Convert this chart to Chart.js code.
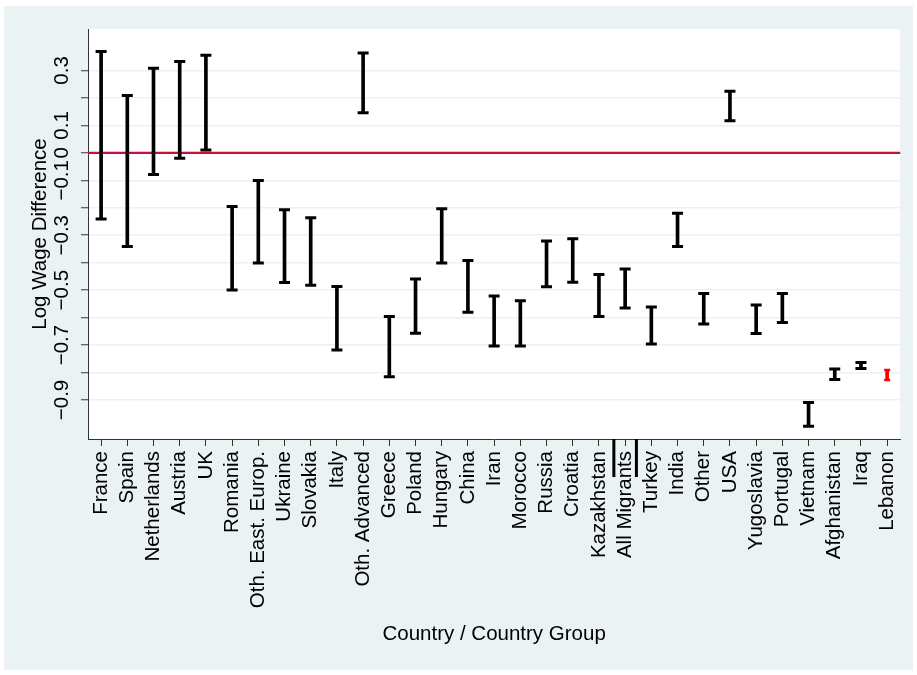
<!DOCTYPE html>
<html>
<head>
<meta charset="utf-8">
<script src="https://cdn.jsdelivr.net/npm/chart.js@4.4.1/dist/chart.umd.min.js"></script>
<style>
  html, body { margin: 0; padding: 0; background: #ffffff; }
  canvas { display: block; }
</style>
</head>
<body>
<canvas id="chart" width="917" height="675"></canvas>
<script>
// Country groups along the x axis
const countries = [
  'France', 'Spain', 'Netherlands', 'Austria', 'UK', 'Romania', 'Oth. East. Europ.',
  'Ukraine', 'Slovakia', 'Italy', 'Oth. Advanced', 'Greece', 'Poland', 'Hungary',
  'China', 'Iran', 'Morocco', 'Russia', 'Croatia', 'Kazakhstan', 'All Migrants',
  'Turkey', 'India', 'Other', 'USA', 'Yugoslavia', 'Portugal', 'Vietnam',
  'Afghanistan', 'Iraq', 'Lebanon'
];

// Confidence interval bounds of the log wage difference
const ciUpper = [
  0.369, 0.209, 0.308, 0.333, 0.355, -0.195, -0.101,
  -0.207, -0.236, -0.487, 0.364, -0.596, -0.459, -0.204,
  -0.392, -0.521, -0.539, -0.321, -0.313, -0.443, -0.423,
  -0.561, -0.220, -0.512, 0.224, -0.554, -0.512, -0.909,
  -0.787, -0.763, -0.791
];
const ciLower = [
  -0.241, -0.341, -0.079, -0.020, 0.010, -0.499, -0.401,
  -0.472, -0.482, -0.718, 0.146, -0.815, -0.657, -0.401,
  -0.580, -0.703, -0.703, -0.488, -0.471, -0.596, -0.565,
  -0.696, -0.341, -0.623, 0.117, -0.658, -0.618, -0.996,
  -0.825, -0.785, -0.827
];

// Groups drawn in red, and the group bracketed on the axis
const redGroups = ['Lebanon'];
const bracketGroup = 'All Migrants';

// Y axis ticks and their labels
const yTickValues = [-0.9, -0.8, -0.7, -0.6, -0.5, -0.4, -0.3, -0.2, -0.1, 0, 0.1, 0.2, 0.3];
const yTickLabels = ['\u22120.9', '', '\u22120.7', '', '\u22120.5', '', '\u22120.3', '', '\u22120.1', '0', '0.1', '', '0.3'];
const yRange = [-1.042, 0.451];
const referenceValue = 0;

const xTitle = 'Country / Country Group';
const yTitle = 'Log Wage Difference';

const FONT = '"Liberation Sans", Arial, Helvetica, sans-serif';
const PANEL = '#eaf2f3';

const panelBackground = {
  id: 'panelBackground',
  beforeDraw(chart) {
    const { ctx, chartArea: a } = chart;
    ctx.save();
    ctx.fillStyle = PANEL;
    ctx.fillRect(4, 6, 909, 664);
    ctx.fillStyle = '#ffffff';
    ctx.fillRect(a.left, a.top, a.right - a.left, a.bottom - a.top);
    ctx.restore();
  }
};

const referenceLine = {
  id: 'referenceLine',
  beforeDatasetsDraw(chart) {
    const { ctx, chartArea: a, scales: { y } } = chart;
    const py = y.getPixelForValue(referenceValue);
    ctx.save();
    ctx.strokeStyle = '#c8103c';
    ctx.lineWidth = 2.2;
    ctx.beginPath();
    ctx.moveTo(a.left, py);
    ctx.lineTo(a.right, py);
    ctx.stroke();
    ctx.restore();
  }
};

const errorCaps = {
  id: 'errorCaps',
  afterDatasetsDraw(chart) {
    const ctx = chart.ctx;
    const meta = chart.getDatasetMeta(0);
    meta.data.forEach((bar, i) => {
      const red = redGroups.includes(countries[i]);
      const half = red ? 3 : 5.5;
      ctx.save();
      ctx.strokeStyle = red ? '#ff0000' : '#000000';
      ctx.lineWidth = red ? 2.5 : 3;
      ctx.beginPath();
      [bar.y, bar.base].forEach(py => {
        ctx.moveTo(bar.x - half, py);
        ctx.lineTo(bar.x + half, py);
      });
      ctx.stroke();
      ctx.restore();
    });
  }
};

const groupBrackets = {
  id: 'groupBrackets',
  afterDraw(chart) {
    const ctx = chart.ctx;
    const x = chart.scales.x;
    const i = countries.indexOf(bracketGroup);
    if (i < 0) return;
    const step = x.getPixelForValue(1) - x.getPixelForValue(0);
    const c = x.getPixelForValue(i);
    const top = chart.chartArea.bottom;
    ctx.save();
    ctx.strokeStyle = '#000000';
    ctx.lineWidth = 3;
    ctx.beginPath();
    [-0.43, 0.43].forEach(f => {
      ctx.moveTo(c + f * step, top);
      ctx.lineTo(c + f * step, top + 38);
    });
    ctx.stroke();
    ctx.restore();
  }
};

new Chart(document.getElementById('chart'), {
  type: 'bar',
  data: {
    labels: countries,
    datasets: [{
      data: countries.map((_, i) => [ciLower[i], ciUpper[i]]),
      backgroundColor: countries.map(c => redGroups.includes(c) ? '#ff0000' : '#000000'),
      borderWidth: 0,
      barThickness: countries.map(c => redGroups.includes(c) ? 2 : 3)
    }]
  },
  options: {
    responsive: false,
    animation: false,
    devicePixelRatio: 1,
    layout: { autoPadding: false, padding: { left: 0, top: 29, right: 15, bottom: 0 } },
    plugins: { legend: { display: false }, tooltip: { enabled: false } },
    scales: {
      x: {
        type: 'category',
        offset: true,
        afterFit(scale) { scale.height = 236; },
        grid: { display: true, offset: false, drawOnChartArea: false, drawTicks: true, tickLength: 7, tickColor: '#333333', tickWidth: 1 },
        border: { display: true, color: '#333333', width: 1 },
        ticks: {
          autoSkip: false, minRotation: 90, maxRotation: 90, padding: 5,
          color: '#000000', font: { family: FONT, size: 20.5 }
        },
        title: {
          display: true, text: xTitle, color: '#000000',
          font: { family: FONT, size: 20.5 }, padding: { top: 0, bottom: 28 }
        }
      },
      y: {
        type: 'linear',
        min: yRange[0],
        max: yRange[1],
        afterFit(scale) { scale.width = 88; },
        afterBuildTicks(scale) { scale.ticks = yTickValues.map(v => ({ value: v })); },
        grid: { color: PANEL, lineWidth: 1.5, drawTicks: true, tickLength: 7, tickColor: '#333333', tickWidth: 1 },
        border: { display: true, color: '#333333', width: 1 },
        ticks: {
          autoSkip: false, minRotation: 90, maxRotation: 90, crossAlign: 'center', padding: -2,
          color: '#000000', font: { family: FONT, size: 20.5 },
          callback: (value, index) => yTickLabels[index]
        },
        title: {
          display: true, text: yTitle, color: '#000000',
          font: { family: FONT, size: 20.5 }, padding: { top: 28, bottom: 0 }
        }
      }
    }
  },
  plugins: [panelBackground, referenceLine, errorCaps, groupBrackets]
});
</script>
</body>
</html>
